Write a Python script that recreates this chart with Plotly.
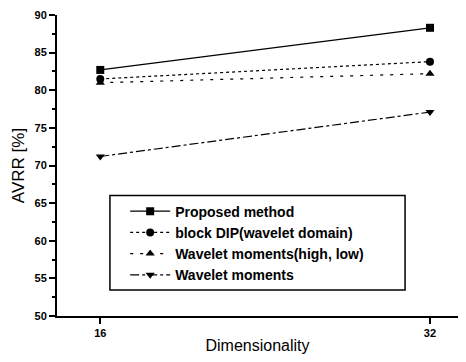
import plotly.graph_objects as go

dims = [16, 32]
proposed = [82.7, 88.3]
block_dip = [81.5, 83.8]
wm_high_low = [81.0, 82.2]
wavelet_moments = [71.2, 77.1]

series = [
    ("Proposed method", proposed, "solid", "square"),
    ("block DIP(wavelet domain)", block_dip, "dot", "circle"),
    ("Wavelet moments(high, low)", wm_high_low, "3px,7px", "triangle-up"),
    ("Wavelet moments", wavelet_moments, "dashdot", "triangle-down"),
]

fig = go.Figure()
for name, vals, dash, sym in series:
    fig.add_trace(go.Scatter(
        x=dims, y=vals, name=name, mode="lines+markers",
        line=dict(color="black", width=1.2, dash=dash),
        marker=dict(symbol=sym, size=8, color="black"),
    ))

font = "Liberation Sans, Arial, sans-serif"
W, H = 450, 346
L, T, B = 49, 7, 38

fig.update_layout(
    width=W, height=H,
    margin=dict(l=L, r=0, t=T, b=B, autoexpand=False),
    paper_bgcolor="white", plot_bgcolor="white",
    font=dict(family=font, color="black"),
    showlegend=True,
    legend=dict(
        x=0.17, y=0.40, xanchor="left", yanchor="top",
        bgcolor="rgba(0,0,0,0)", borderwidth=0,
        font=dict(size=14, family=font, weight="bold"),
        itemwidth=40, tracegroupgap=0,
    ),
    xaxis=dict(
        range=[13.9, 33.36], tickvals=[16, 32], ticktext=["16", "32"],
        showgrid=False, zeroline=False, showline=True, linecolor="black", linewidth=2,
        ticks="outside", ticklen=6, tickwidth=1.5, tickcolor="black",
        tickfont=dict(size=11, family=font, weight="bold"),
        title=dict(text="Dimensionality", font=dict(size=16, family=font), standoff=6),
    ),
    yaxis=dict(
        range=[50, 90], tickvals=[50, 55, 60, 65, 70, 75, 80, 85, 90],
        showgrid=False, zeroline=False, showline=True, linecolor="black", linewidth=2,
        ticks="outside", ticklen=6, tickwidth=1.5, tickcolor="black",
        tickfont=dict(size=11, family=font, weight="bold"),
        ticklabeloverflow="allow",
        minor=dict(dtick=2.5, ticks="outside", ticklen=3, tickcolor="black"),
        title=dict(text="AVRR [%]", font=dict(size=17, family=font), standoff=6),
    ),
    shapes=[dict(
        type="rect", xref="paper", yref="paper",
        x0=0.132, x1=0.868, y0=0.086, y1=0.40,
        line=dict(color="black", width=1.5),
    )],
)

fig.write_html("out.html")
